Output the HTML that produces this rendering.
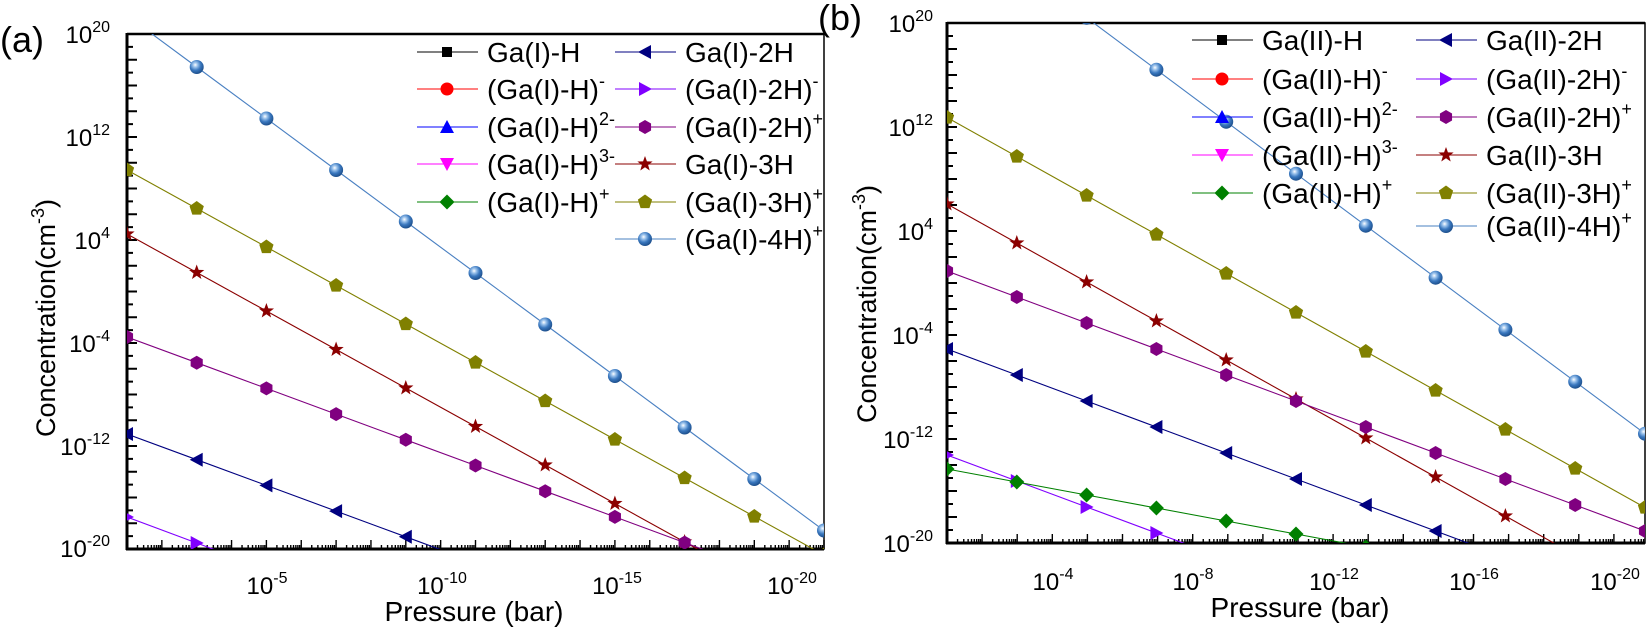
<!DOCTYPE html>
<html><head><meta charset="utf-8">
<style>
html,body{margin:0;padding:0;background:#fff;width:1651px;height:634px;overflow:hidden;}
svg{display:block;font-family:"Liberation Sans",Arial,sans-serif;}
</style></head>
<body>
<svg id="s" width="1651" height="634" viewBox="0 0 1651 634" xmlns="http://www.w3.org/2000/svg">
<defs>
<radialGradient id="sph" cx="0.4" cy="0.35" r="0.65">
<stop offset="0" stop-color="#ffffff"/><stop offset="0.25" stop-color="#9cc3ec"/><stop offset="0.6" stop-color="#3a78bf"/><stop offset="1" stop-color="#1d4f8c"/>
</radialGradient>
<clipPath id="cL"><rect x="127" y="34" width="697" height="515"/></clipPath>
<clipPath id="cR"><rect x="947" y="23" width="698" height="520"/></clipPath>
</defs>
</svg>
<script>
const S=document.getElementById('s');const NS='http://www.w3.org/2000/svg';
function el(t,a,p){const e=document.createElementNS(NS,t);for(const k in a)e.setAttribute(k,a[k]);(p||S).appendChild(e);return e;}
function marker(g,type,x,y,c){
 if(type=='sq')el('rect',{x:x-5,y:y-5,width:10,height:10,fill:c},g);
 else if(type=='ci')el('circle',{cx:x,cy:y,r:6.5,fill:c},g);
 else if(type=='sp')el('circle',{cx:x,cy:y,r:7,fill:'url(#sph)'},g);
 else{let pts=[];
  if(type=='up')pts=[[0,-7],[7,6],[-7,6]];
  if(type=='dn')pts=[[0,7],[7,-6],[-7,-6]];
  if(type=='lt')pts=[[-7,0],[6,-7],[6,7]];
  if(type=='rt')pts=[[7,0],[-6,-7],[-6,7]];
  if(type=='di')pts=[[0,-7.5],[7.5,0],[0,7.5],[-7.5,0]];
  if(type=='hx'){for(let k=0;k<6;k++){let a=Math.PI/3*k+Math.PI/6;pts.push([7*Math.cos(a),7*Math.sin(a)]);}}
  if(type=='pe'){for(let k=0;k<5;k++){let a=-Math.PI/2+2*Math.PI/5*k;pts.push([7.5*Math.cos(a),7.5*Math.sin(a)]);}}
  if(type=='st'){for(let k=0;k<10;k++){let a=-Math.PI/2+Math.PI/5*k;let rr=k%2?3.3:8;pts.push([rr*Math.cos(a),rr*Math.sin(a)]);}}
  el('polygon',{points:pts.map(p=>(x+p[0])+','+(y+p[1])).join(' '),fill:c},g);}
}
function series(clip,x0,dx,y0,dy,n,type,c,lc){
 const g=el('g',{'clip-path':'url(#'+clip+')'});
 let pts=[];for(let i=-1;i<=n;i++)pts.push([x0+dx*i,y0+dy*i]);
 el('polyline',{points:pts.map(p=>p.join(',')).join(' '),fill:'none',stroke:lc||c,'stroke-width':1.1},g);
 for(let i=0;i<=n;i++)marker(g,type,x0+dx*i,y0+dy*i,c);
}
function txt(x,y,s,sz,anchor,extra){const t=el('text',Object.assign({x:x,y:y,'font-size':sz,'text-anchor':anchor||'start',fill:'#000'},extra||{}));t.innerHTML=s;return t;}
function sup(b,s){return b+'<tspan dy="-11" font-size="16">'+s+'</tspan>';}

function axes(L,T,R,B,xOff,dec,ydec,labelsY,labelsX){
 el('rect',{x:L,y:T,width:R-L,height:B-T,fill:'none',stroke:'#000','stroke-width':1.5});
 el('line',{x1:L,y1:T,x2:R,y2:T,stroke:'#000','stroke-width':2.5});
 el('line',{x1:L,y1:T-1,x2:L,y2:B+1,stroke:'#000','stroke-width':3});
 el('line',{x1:L-1,y1:B,x2:R,y2:B,stroke:'#000','stroke-width':3});
 for(let k=0;k<=40;k++){let y=T+k*ydec;el('line',{x1:L,y1:y,x2:L+(k%2?6:10),y2:y,stroke:'#000','stroke-width':2});}
 for(let d=0;d<22;d++){let xb=L+xOff+d*dec;
  for(let m=1;m<=9;m++){let x=xb+Math.log10(m)*dec; if(x<L||x>R)continue;
   el('line',{x1:x,y1:B,x2:x,y2:B-(m==1?9:4),stroke:'#000','stroke-width':1.4});}}
 for(const l of labelsY)txt(l[0],l[1],sup('10',l[2]),24,'end');
 for(const l of labelsX)txt(l[0],l[1],sup('10',l[2]),24,'middle');
}
axes(127,34,824,549,0,34.85,12.875,
 [[110,43,'20'],[110,146,'12'],[110,249,'4'],[110,352,'-4'],[110,455,'-12'],[110,557,'-20']],
 [[267,594,'-5'],[442,594,'-10'],[617,594,'-15'],[792,594,'-20']]);
const xl=127,dxl=69.7;
series('cL',xl,dxl,15.5,51.5,11,'sp','#2f6db3','#4a80c2');
series('cL',xl,dxl,170,38.5,11,'pe','#808000');
series('cL',xl,dxl,234,38.5,11,'st','#8b0000');
series('cL',xl,dxl,337,25.7,11,'hx','#800080');
series('cL',xl,dxl,434,25.7,11,'lt','#000080');
series('cL',xl,dxl,517,26,11,'rt','#8000ff');
axes(947,23,1645,543,0,35.1,13,
 [[933,32,'20'],[933,136,'12'],[933,240,'4'],[933,344,'-4'],[933,448,'-12'],[933,552,'-20']],
 [[1053,590,'-4'],[1193,590,'-8'],[1334,590,'-12'],[1474,590,'-16'],[1615,590,'-20']]);
const xr=947,dxr=69.8;
series('cR',xr,dxr,-86.3,52,11,'sp','#2f6db3','#4a80c2');
series('cR',xr,dxr,117.5,39,11,'pe','#808000');
series('cR',xr,dxr,204,39,11,'st','#8b0000');
series('cR',xr,dxr,271,26,11,'hx','#800080');
series('cR',xr,dxr,349,26,11,'lt','#000080');
series('cR',xr,dxr,455,26,11,'rt','#8000ff');
series('cR',xr,dxr,469,13,11,'di','#008000');
function legend(x1,x2,rows,name){
 const c1=[['sq','#000','#000',name+'-H',''],['ci','#ff0000','#ff0000','('+name+'-H)','-'],['up','#0000ff','#0000ff','('+name+'-H)','2-'],['dn','#ff00ff','#ff00ff','('+name+'-H)','3-'],['di','#008000','#008000','('+name+'-H)','+']];
 const c2=[['lt','#000080','#000080',name+'-2H',''],['rt','#8000ff','#8000ff','('+name+'-2H)','-'],['hx','#800080','#800080','('+name+'-2H)','+'],['st','#8b0000','#8b0000',name+'-3H',''],['pe','#808000','#808000','('+name+'-3H)','+'],['sp','#2f6db3','#4a80c2','('+name+'-4H)','+']];
 [[x1,c1],[x2,c2]].forEach(([x,c])=>{c.forEach((e,i)=>{let y=rows[i];
  el('line',{x1:x,y1:y,x2:x+61,y2:y,stroke:e[2],'stroke-width':1.1});
  marker(S,e[0],x+30,y,e[1]);
  txt(x+70,y+10,e[3]+(e[4]?'<tspan dy="-12" font-size="18">'+e[4]+'</tspan>':''),28);
 });});
}
legend(417,615,[52,89,127,164,202,239],'Ga(I)');
legend(1192,1416,[40,79,117,155,193,226],'Ga(II)');
txt(474,621,'Pressure (bar)',28,'middle');
txt(1300,617,'Pressure (bar)',28,'middle');
txt(0,0,'Concentration(cm<tspan dy="-11" font-size="18">-3</tspan><tspan dy="11">)</tspan>',27,'middle',{transform:'translate(55,318) rotate(-90)'});
txt(0,0,'Concentration(cm<tspan dy="-11" font-size="18">-3</tspan><tspan dy="11">)</tspan>',27,'middle',{transform:'translate(876,304) rotate(-90)'});
txt(0,52,'(a)',36);
txt(818,30,'(b)',36);
</script>
</body></html>
